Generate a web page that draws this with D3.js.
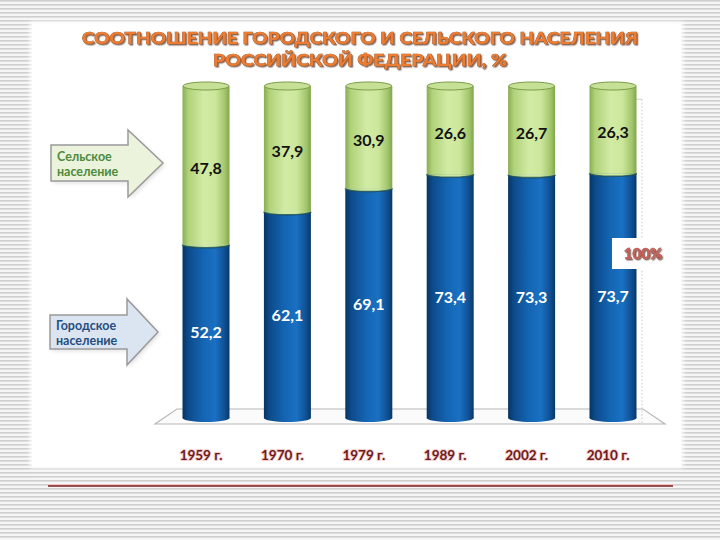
<!DOCTYPE html>
<html>
<head>
<meta charset="utf-8">
<script src="https://cdn.jsdelivr.net/npm/d3@7"></script>
<style>
  html, body { margin: 0; padding: 0; background: #f3f3f3; }
  svg { display: block; }
</style>
</head>
<body>
<svg id="chart" width="720" height="540"></svg>
<script>
// chart data
const years = ["1959 г.", "1970 г.", "1979 г.", "1989 г.", "2002 г.", "2010 г."];
const urban = [52.2, 62.1, 69.1, 73.4, 73.3, 73.7];   // городское население, %
const rural = [47.8, 37.9, 30.9, 26.6, 26.7, 26.3];   // сельское население, %
const titleLines = ["СООТНОШЕНИЕ ГОРОДСКОГО И СЕЛЬСКОГО НАСЕЛЕНИЯ", "РОССИЙСКОЙ ФЕДЕРАЦИИ, %"];
const legendRural = ["Сельское", "население"];
const legendUrban = ["Городское", "население"];

const fmt = d => d.toFixed(1).replace(".", ",");
const font = "Lato, 'Open Sans', sans-serif";

const svg = d3.select("#chart");
const defs = svg.append("defs");

// striped slide background
const pat = defs.append("pattern").attr("id", "stripes")
  .attr("width", 8).attr("height", 4).attr("patternUnits", "userSpaceOnUse");
pat.append("rect").attr("width", 8).attr("height", 4).attr("fill", "#f6f6f6");
pat.append("rect").attr("width", 8).attr("height", 1.6).attr("fill", "#cfcfcf");

svg.append("rect").attr("width", 720).attr("height", 540).attr("fill", "url(#stripes)");

// white panel with soft edge
const blur = defs.append("filter").attr("id", "soft").attr("x", "-5%").attr("y", "-5%")
  .attr("width", "110%").attr("height", "110%");
blur.append("feGaussianBlur").attr("stdDeviation", 2);
svg.append("rect").attr("x", 30).attr("y", 22).attr("width", 653).attr("height", 446)
  .attr("fill", "#fff").attr("filter", "url(#soft)");
svg.append("rect").attr("x", 32).attr("y", 24).attr("width", 649).attr("height", 442)
  .attr("fill", "#fff");

// text shadow used by the title and the 100% note
const shadow = defs.append("filter").attr("id", "tshadow").attr("x", "-5%").attr("y", "-20%")
  .attr("width", "110%").attr("height", "140%");
shadow.append("feDropShadow").attr("dx", 1.3).attr("dy", 1.3).attr("stdDeviation", 0.6)
  .attr("flood-color", "#3a1804").attr("flood-opacity", 0.6);

// red rule under the panel
svg.append("line").attr("x1", 48).attr("x2", 673).attr("y1", 484.5).attr("y2", 484.5)
  .attr("stroke", "#f2c4c4").attr("stroke-width", 1);
svg.append("line").attr("x1", 48).attr("x2", 673).attr("y1", 486).attr("y2", 486)
  .attr("stroke", "#7a1a1a").attr("stroke-width", 1.5);

// gradients for cylinders
function hGrad(id, stops) {
  const g = defs.append("linearGradient").attr("id", id)
    .attr("x1", "0%").attr("x2", "100%").attr("y1", "0%").attr("y2", "0%");
  stops.forEach(s => g.append("stop").attr("offset", s[0]).attr("stop-color", s[1]));
}
hGrad("blueG", [["0%", "#073462"], ["12%", "#0d4a8a"], ["45%", "#1466b4"], ["70%", "#1a70c2"], ["90%", "#0f4f92"], ["100%", "#083866"]]);
hGrad("greenG", [["0%", "#88ad52"], ["12%", "#b0d27a"], ["45%", "#d2eba4"], ["70%", "#cce79c"], ["90%", "#a3c66c"], ["100%", "#80a54a"]]);

// title
const titleY = [44, 66];
const titleW = [556, 294];
svg.append("g").attr("filter", "url(#tshadow)")
  .selectAll("text").data(titleLines).join("text")
  .attr("x", 360).attr("y", (d, i) => titleY[i])
  .attr("text-anchor", "middle").attr("font-family", font).attr("font-weight", 900)
  .attr("font-size", 17).attr("fill", "#ec7b30").attr("stroke", "#8a3e12")
  .attr("stroke-width", 0.6).attr("paint-order", "stroke")
  .attr("textLength", (d, i) => titleW[i]).attr("lengthAdjust", "spacingAndGlyphs")
  .text(d => d);

// scales
const x = d3.scalePoint().domain(years).range([206, 613]);
const y = d3.scaleLinear().domain([0, 100]).range([418, 86]);
const bw = 47, ry = 4;

// 3d floor
const floor = [[177, 409], [643, 409], [665, 424], [155, 424]];
svg.append("path").attr("d", "M" + floor.join("L") + "Z")
  .attr("fill", "#fbfbfb").attr("stroke", "#b8b8b8").attr("stroke-width", 1.2);

// back-wall edge on the right
svg.append("line").attr("x1", 642).attr("x2", 642).attr("y1", y(96)).attr("y2", 424)
  .attr("stroke", "#c8c8c8").attr("stroke-dasharray", "1.5,2");
svg.append("line").attr("x1", 626).attr("x2", 642).attr("y1", y(96)).attr("y2", y(96))
  .attr("stroke", "#d0d0d0");

const rows = years.map((yr, i) => ({ yr, u: urban[i], r: rural[i] }));
const bars = svg.append("g").selectAll("g").data(rows).join("g")
  .attr("transform", d => `translate(${x(d.yr)},0)`);

// blue (urban) part
bars.append("ellipse").attr("cx", 0).attr("cy", y(0)).attr("rx", bw / 2).attr("ry", ry)
  .attr("fill", "url(#blueG)");
bars.append("rect").attr("x", -bw / 2).attr("width", bw)
  .attr("y", d => y(d.u)).attr("height", d => y(0) - y(d.u))
  .attr("fill", "url(#blueG)");

// green (rural) part
bars.append("rect").attr("x", -bw / 2).attr("width", bw)
  .attr("y", y(100)).attr("height", d => y(d.u) - y(100))
  .attr("fill", "url(#greenG)");
bars.append("path")
  .attr("d", d => `M${-bw / 2},${y(d.u)} A${bw / 2},${ry - 1} 0 0 0 ${bw / 2},${y(d.u)}`)
  .attr("fill", "url(#greenG)").attr("stroke", "#1d4f5a").attr("stroke-width", 1.6)
  .attr("stroke-opacity", 0.8);
bars.append("ellipse").attr("cx", 0).attr("cy", y(100)).attr("rx", bw / 2 - 0.5).attr("ry", ry)
  .attr("fill", "#c6e196").attr("stroke", "#7a9c48").attr("stroke-width", 1);

// value labels
bars.append("text").attr("text-anchor", "middle").attr("dominant-baseline", "central")
  .attr("y", d => (y(100) + y(d.u)) / 2 + 2)
  .attr("font-family", font).attr("font-weight", 700).attr("font-size", 16)
  .attr("fill", "#111").text(d => fmt(d.r));
bars.append("text").attr("text-anchor", "middle").attr("dominant-baseline", "central")
  .attr("y", d => (y(d.u) + y(0)) / 2)
  .attr("font-family", font).attr("font-weight", 700).attr("font-size", 16)
  .attr("fill", "#fff").text(d => fmt(d.u));

// category labels
svg.append("g").selectAll("text").data(years).join("text")
  .attr("x", d => x(d) - 5).attr("y", 460).attr("text-anchor", "middle")
  .attr("font-family", font).attr("font-weight", 700).attr("font-size", 13.5)
  .attr("fill", "#6e1a1a").attr("stroke", "#f3d0d0").attr("stroke-width", 2)
  .attr("paint-order", "stroke").text(d => d);

// 100% label
svg.append("rect").attr("x", 612).attr("y", 238).attr("width", 58).attr("height", 31)
  .attr("fill", "#fff");
svg.append("text").attr("x", 643).attr("y", 259).attr("text-anchor", "middle")
  .attr("font-family", font).attr("font-weight", 900).attr("font-size", 15)
  .attr("fill", "#c8605a").attr("stroke", "#6a2020").attr("stroke-width", 0.4)
  .attr("paint-order", "stroke").attr("filter", "url(#tshadow)").text("100%");

// legend arrows
function arrow(g, left, top, bottom, neck, headTop, headBot, tip, fill) {
  const mid = (top + bottom) / 2;
  const pts = [[left, top], [neck, top], [neck, headTop], [tip, mid], [neck, headBot], [neck, bottom], [left, bottom]];
  g.append("path").attr("d", "M" + pts.map(p => [p[0] + 2, p[1] + 2]).join("L") + "Z")
    .attr("fill", "#000").attr("opacity", 0.12).attr("filter", "url(#soft)");
  g.append("path").attr("d", "M" + pts.join("L") + "Z")
    .attr("fill", fill).attr("stroke", "#9a9a9a").attr("stroke-width", 1.5);
}
const gR = svg.append("g");
arrow(gR, 51, 145, 181, 128, 130, 197, 163, "#ebf3dc");
gR.selectAll("text").data(legendRural).join("text")
  .attr("x", 57).attr("y", (d, i) => 161 + i * 15)
  .attr("font-family", font).attr("font-weight", 700).attr("font-size", 12.5)
  .attr("fill", "#4d8a3c").text(d => d);

const gU = svg.append("g");
arrow(gU, 50, 315, 349, 127, 299, 365, 158, "#dbe5f1");
gU.selectAll("text").data(legendUrban).join("text")
  .attr("x", 56).attr("y", (d, i) => 330 + i * 15)
  .attr("font-family", font).attr("font-weight", 700).attr("font-size", 12.5)
  .attr("fill", "#254e7e").text(d => d);
</script>
</body>
</html>
